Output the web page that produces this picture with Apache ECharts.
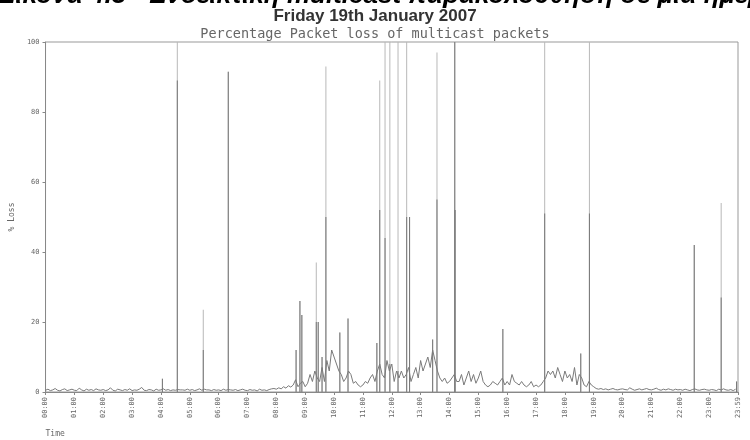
<!DOCTYPE html>
<html>
<head>
<meta charset="utf-8">
<script src="https://cdn.jsdelivr.net/npm/echarts@6/dist/echarts.min.js"></script>
<style>html,body{margin:0;padding:0;background:#fff}#c{width:750px;height:440px}</style>
</head>
<body>
<div id="c"></div>
<script>
// Background loss, sampled every 5 minutes (one row per hour, 12 samples)
var stepMinutes = 5;
var baseLoss = [
  0.5,0.8,0.4,0.6,1.0,0.5,0.3,0.7,0.9,0.4,0.6,0.8,
  0.5,0.4,1.1,0.6,0.3,0.8,0.5,0.7,0.4,0.9,0.6,0.5,
  0.7,0.4,0.6,1.2,0.5,0.3,0.8,0.6,0.4,0.7,0.5,0.9,
  0.4,0.6,0.5,0.8,1.3,0.5,0.4,0.7,0.6,0.3,0.8,0.5,
  0.6,0.9,0.5,0.7,0.4,0.6,0.5,0.7,0.6,0.6,0.5,0.8,
  0.5,0.7,0.4,0.6,0.9,0.5,0.8,0.6,0.6,0.4,0.7,0.5,
  0.6,0.4,0.8,0.5,0.7,0.6,0.5,0.7,0.4,0.6,0.8,0.5,
  0.4,0.7,0.5,0.6,0.3,0.8,0.5,0.6,0.4,0.7,0.9,1.0,
  0.8,1.2,0.9,1.5,1.1,1.8,1.4,2.0,3.5,1.5,2.5,3,
  1.5,2.5,5,3,6,4,3,7,3,9,6,12,
  10,8,6,5,3,4,6,5,2.5,3,2,1.5,
  2,3,2.5,4,5,3,6,8,5,4,9,6,
  8,3,6,4,6,4,5,7,3,5,7,4,
  9,6,8,10,7,12,9,6,4,3,4,2.5,
  3,4,5,3,3,5,2,4,6,3,5,2.5,
  4,6,3,2,1.5,2,3,2.5,2,3,4,2,
  3,2,5,3,2.5,2,3,2,1.5,2,3,1.5,
  2,1.5,2,3,4,6,5,6,4,7,5,3,
  6,4,5,3,7,2,5,4,2,1.5,3,2,
  1.5,1,0.8,1,0.7,0.9,0.6,0.8,1,0.7,0.6,0.8,
  0.9,0.7,0.6,1.2,0.8,0.5,0.7,0.9,0.6,0.8,1.0,0.7,
  0.6,0.8,1.1,0.7,0.5,0.8,0.6,0.9,0.7,0.5,0.8,0.6,
  0.7,0.5,0.8,0.6,0.4,0.7,0.9,0.6,0.5,0.7,0.8,0.6,
  0.5,0.7,0.6,0.4,0.8,0.6,0.9,0.6,0.5,0.7,0.4,0.8
];
// Short loss bursts: minute of day, peak % and the lower (darker) level
var spikeMinutes = [243, 274, 328, 380, 521, 529, 533, 563, 567, 575, 583, 612, 629, 689, 695, 706, 716, 733, 751, 757, 805, 814, 851, 851.6, 951, 1038, 1113, 1131, 1349, 1405, 1437];
var spikePeak    = [3.8, 100, 23.5, 91.5, 12, 26, 22, 37, 20, 10, 93, 17, 21, 14, 89, 100, 100, 100, 100, 50, 15, 97, 100, 52, 18, 100, 11, 100, 42, 54, 3];
var spikeInner   = [3.8, 89, 12, 91.5, 12, 26, 22, 20, 20, 10, 50, 17, 21, 14, 52, 44, 8, 6, 50, 50, 15, 55, 100, 52, 18, 51, 11, 51, 42, 27, 3];
var xTickLabels = ['00:00','01:00','02:00','03:00','04:00','05:00','06:00','07:00','08:00','09:00','10:00','11:00',
  '12:00','13:00','14:00','15:00','16:00','17:00','18:00','19:00','20:00','21:00','22:00','23:00','23:59'];
var yTicks = [0,20,40,60,80,100];

var baseData = baseLoss.map(function(v,i){ return [i*stepMinutes, v]; });
var peakData = spikeMinutes.map(function(t,i){ return [t, spikePeak[i]]; });
var innerData = spikeMinutes.map(function(t,i){ return [t, spikeInner[i]]; });
var mono = 'DejaVu Sans Mono, monospace';

var chart = echarts.init(document.getElementById('c'), null, {renderer:'canvas'});
chart.setOption({
  animation:false,
  backgroundColor:'#ffffff',
  title:[
    {text:'Friday 19th January 2007', left:'center', top:3,
     textStyle:{fontFamily:'Liberation Sans Narrow, Liberation Sans, Arial, sans-serif', fontWeight:'bold', fontSize:17, color:'#333'}},
    {text:'Percentage Packet loss of multicast packets', left:'center', top:22,
     textStyle:{fontFamily:mono, fontWeight:'normal', fontSize:13.5, color:'#666'}}
  ],
  graphic:[
    {type:'text', left:-2, top:-17, z:10,
     style:{text:'Εικόνα 4.3 - Ενδεικτική multicast παρακολούθηση σε μια ημέρα', fontFamily:'Liberation Sans, Arial, sans-serif', fontWeight:'bold', fontStyle:'italic', fontSize:26, fill:'#000'}}
  ],
  grid:{left:45, right:12, top:42, bottom:48, show:true, borderColor:'#999', borderWidth:1},
  xAxis:{
    type:'value', min:0, max:1440, interval:60,
    name:'Time', nameLocation:'start', nameGap:0,
    nameTextStyle:{fontFamily:mono, fontSize:8, color:'#666', align:'left', verticalAlign:'top', padding:[38,0,0,0]},
    axisLine:{show:true, lineStyle:{color:'#888'}},
    axisTick:{show:true, length:3, lineStyle:{color:'#888'}},
    splitLine:{show:false},
    axisLabel:{rotate:90, fontFamily:mono, fontSize:7, color:'#666', margin:5,
      showMaxLabel:true,
      formatter:function(v){ return xTickLabels[Math.round(v/60)] || ''; }}
  },
  yAxis:{
    type:'value', min:0, max:100, interval:20,
    name:'% Loss', nameLocation:'middle', nameGap:5, nameRotate:90,
    nameTextStyle:{fontFamily:mono, fontSize:8, color:'#666'},
    axisLine:{show:true, lineStyle:{color:'#888'}},
    axisTick:{show:true, length:3, lineStyle:{color:'#888'}},
    splitLine:{show:false},
    axisLabel:{fontFamily:mono, fontSize:7, color:'#666', margin:6,
      formatter:function(v){ return yTicks.indexOf(v)>=0 ? String(v) : ''; }}
  },
  series:[
    {type:'line', data:baseData, showSymbol:false, symbol:'none',
     lineStyle:{color:'#7a7a7a', width:1}, clip:true, z:3},
    {type:'bar', data:peakData, barWidth:1, barGap:'-100%',
     itemStyle:{color:'#b8b8b8'}, z:2},
    {type:'bar', data:innerData, barWidth:1, barGap:'-100%',
     itemStyle:{color:'#777777'}, z:2}
  ]
});
</script>
</body>
</html>
